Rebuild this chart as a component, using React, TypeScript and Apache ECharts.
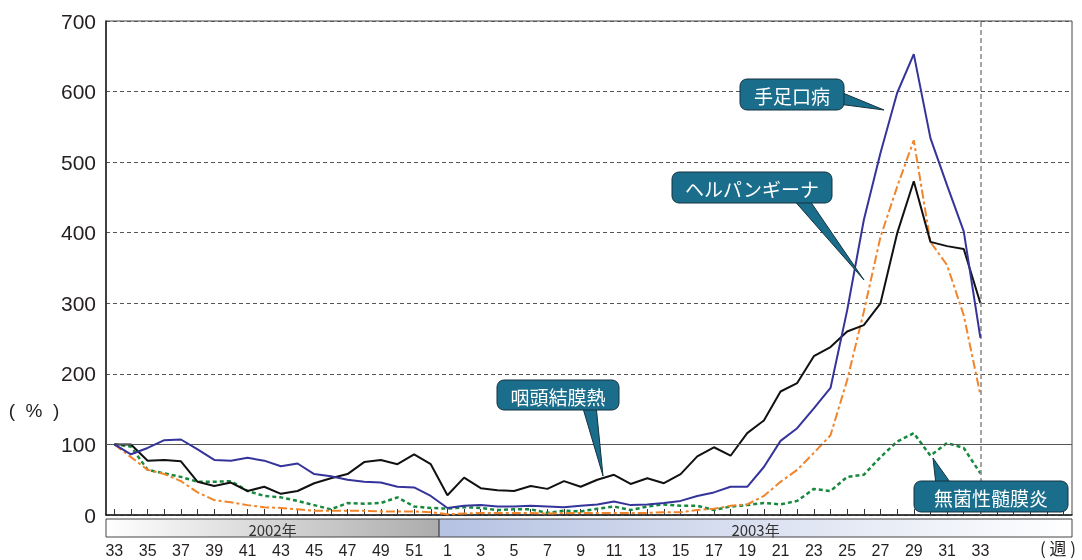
import React, { useEffect, useRef } from 'react';
import * as echarts from 'echarts';

// weeks: 2002 wk33–52, 2003 wk1–38 (data until 2003 wk33)
const weeks2002 = [33, 34, 35, 36, 37, 38, 39, 40, 41, 42, 43, 44, 45, 46, 47, 48, 49, 50, 51, 52];
const weeks2003 = [1, 2, 3, 4, 5, 6, 7, 8, 9, 10, 11, 12, 13, 14, 15, 16, 17, 18, 19, 20, 21, 22, 23, 24, 25, 26, 27, 28, 29, 30, 31, 32, 33, 34, 35, 36, 37, 38];
const lastLabelledWeek2003 = 33;
const categories = [
  ...weeks2002.map((w) => `2002-${w}`),
  ...weeks2003.map((w) => `2003-${w}`),
];

const yTickValues = [0, 100, 200, 300, 400, 500, 600, 700];

// 手足口病
const handFootMouth = [
  100, 86, 95, 106, 107, 93, 78, 77, 81, 77, 69, 73, 58, 55, 50, 47, 46, 40, 39, 27,
  10, 13, 14, 12, 12, 13, 12, 11, 13, 15, 19, 14, 15, 17, 20, 27, 32, 40, 40, 68, 105, 123, 151, 180, 290, 418, 513, 598, 653, 534, 467, 402, 251,
];
// ヘルパンギーナ
const herpangina = [
  100, 82, 64, 58, 48, 32, 21, 18, 14, 11, 10, 8, 6, 6, 6, 6, 5, 5, 5, 4,
  1, 2, 3, 3, 3, 3, 2, 3, 3, 3, 3, 3, 3, 4, 4, 7, 9, 13, 15, 27, 47, 64, 88, 113, 191, 288, 394, 465, 531, 387, 354, 283, 170,
];
// 咽頭結膜熱
const pharyngoconjunctival = [
  100, 100, 77, 78, 76, 47, 41, 46, 34, 40, 30, 34, 45, 52, 58, 75, 78, 72, 86, 72,
  28, 53, 38, 35, 34, 41, 37, 48, 40, 50, 57, 44, 52, 45, 58, 83, 96, 84, 116, 134, 175, 187, 225, 238, 260, 269, 300, 399, 473, 387, 381, 377, 300,
];
// 無菌性髄膜炎
const asepticMeningitis = [
  100, 97, 64, 59, 54, 47, 47, 48, 34, 27, 25, 20, 14, 8, 17, 16, 17, 25, 12, 10,
  9, 11, 10, 7, 8, 8, 3, 6, 5, 9, 12, 7, 12, 15, 13, 13, 7, 12, 14, 17, 15, 20, 37, 34, 54, 57, 82, 104, 116, 84, 102, 95, 59,
];

const NUM_FONT = '"Liberation Sans", Arial, sans-serif';
const JP_FONT = '"Noto Sans CJK JP", "Noto Sans", sans-serif';
const BOX_FILL = '#1b6d8c';
const BOX_STROKE = '#14323f';

function callout(
  text: string,
  box: { x: number; y: number; w: number; h: number },
  pointer: number[][]
) {
  return {
    type: 'group',
    silent: true,
    children: [
      {
        type: 'polygon',
        shape: { points: pointer },
        style: { fill: BOX_FILL, stroke: BOX_STROKE, lineWidth: 1 },
        z: 10,
      },
      {
        type: 'rect',
        shape: { x: box.x, y: box.y, width: box.w, height: box.h, r: 7 },
        style: { fill: BOX_FILL, stroke: BOX_STROKE, lineWidth: 1 },
        z: 11,
      },
      {
        type: 'text',
        x: box.x + box.w / 2,
        y: box.y + box.h / 2 + 1,
        style: {
          text,
          fill: '#ffffff',
          font: `19px ${JP_FONT}`,
          align: 'center',
          verticalAlign: 'middle',
        },
        z: 12,
      },
    ],
  };
}

export default function App() {
  const ref = useRef<HTMLDivElement>(null);

  useEffect(() => {
    if (!ref.current) return;
    const chart = echarts.init(ref.current, null, { renderer: 'svg' });

    const lastIdx = weeks2002.length + lastLabelledWeek2003 - 1;

    const lineBase = {
      type: 'line',
      symbol: 'none',
      silent: true,
      smooth: false,
    };

    chart.setOption({
      animation: false,
      grid: {
        left: 106,
        right: 10,
        top: 21,
        bottom: 45,
        show: true,
        borderColor: '#444',
        borderWidth: 1,
        backgroundColor: 'transparent',
      },
      xAxis: {
        type: 'category',
        data: categories,
        boundaryGap: true,
        axisLine: { show: true, lineStyle: { color: '#222', width: 1.5 } },
        axisTick: {
          show: true,
          inside: true,
          length: 6,
          interval: 0,
          alignWithLabel: true,
          lineStyle: { color: '#333', width: 1 },
        },
        axisLabel: {
          interval: 0,
          margin: 27,
          fontSize: 16,
          fontFamily: NUM_FONT,
          color: '#231f20',
          formatter: (value: string, index: number) => {
            if (index % 2 !== 0 || index > lastIdx) return '';
            return value.split('-')[1];
          },
        },
        splitLine: { show: false },
      },
      yAxis: {
        type: 'value',
        min: 0,
        max: 700,
        interval: 100,
        axisLine: { show: true, lineStyle: { color: '#222', width: 1.5 } },
        axisTick: { show: false },
        axisLabel: {
          fontSize: 21,
          fontFamily: NUM_FONT,
          color: '#231f20',
          margin: 10,
          formatter: (v: number) => (yTickValues.includes(v) ? String(v) : ''),
        },
        splitLine: {
          show: true,
          lineStyle: { color: '#555', type: [4, 3], width: 1 },
        },
      },
      series: [
        {
          ...lineBase,
          name: '無菌性髄膜炎',
          data: asepticMeningitis,
          lineStyle: { color: '#17893c', width: 2.5, type: [4, 3] },
          z: 2,
          markLine: {
            silent: true,
            symbol: 'none',
            label: { show: false },
            data: [
              {
                yAxis: 100,
                lineStyle: { color: '#555', type: 'solid', width: 1 },
              },
              {
                xAxis: lastIdx,
                lineStyle: { color: '#888', type: [5, 3], width: 1.5 },
              },
            ],
          },
        },
        {
          ...lineBase,
          name: 'ヘルパンギーナ',
          data: herpangina,
          lineStyle: { color: '#f0852c', width: 2, type: [9, 3, 3, 3] },
          z: 3,
        },
        {
          ...lineBase,
          name: '咽頭結膜熱',
          data: pharyngoconjunctival,
          lineStyle: { color: '#111111', width: 2, type: 'solid' },
          z: 4,
        },
        {
          ...lineBase,
          name: '手足口病',
          data: handFootMouth,
          lineStyle: { color: '#34349a', width: 2, type: 'solid' },
          z: 5,
        },
      ],
    });

    // year band below the axis, located from the category scale
    const px = (i: number) =>
      chart.convertToPixel({ xAxisIndex: 0 }, categories[i]) as number;
    const step = px(1) - px(0);
    const left = px(0) - step / 2;
    const mid = (px(weeks2002.length - 1) + px(weeks2002.length)) / 2;
    const right = px(categories.length - 1) + step / 2;
    const bandY = 519;
    const bandH = 18;

    chart.setOption({
      graphic: [
        {
          type: 'rect',
          silent: true,
          shape: { x: left, y: bandY, width: mid - left, height: bandH },
          style: {
            fill: new echarts.graphic.LinearGradient(0, 0, 1, 0, [
              { offset: 0, color: '#ffffff' },
              { offset: 1, color: '#acacac' },
            ]),
            stroke: '#444',
            lineWidth: 1,
          },
        },
        {
          type: 'rect',
          silent: true,
          shape: { x: mid, y: bandY, width: right - mid, height: bandH },
          style: {
            fill: new echarts.graphic.LinearGradient(0, 0, 1, 0, [
              { offset: 0, color: '#b5c2e2' },
              { offset: 1, color: '#ffffff' },
            ]),
            stroke: '#444',
            lineWidth: 1,
          },
        },
        {
          type: 'text',
          silent: true,
          x: (left + mid) / 2,
          y: bandY + bandH / 2 + 1,
          style: {
            text: '2002年',
            font: `15px ${JP_FONT}`,
            fill: '#333',
            align: 'center',
            verticalAlign: 'middle',
          },
        },
        {
          type: 'text',
          silent: true,
          x: (mid + right) / 2,
          y: bandY + bandH / 2 + 1,
          style: {
            text: '2003年',
            font: `15px ${JP_FONT}`,
            fill: '#333',
            align: 'center',
            verticalAlign: 'middle',
          },
        },
        {
          type: 'text',
          silent: true,
          x: 34,
          y: 410,
          style: {
            text: '(  %  )',
            font: `19px ${NUM_FONT}`,
            fill: '#231f20',
            align: 'center',
            verticalAlign: 'middle',
          },
        },
        {
          type: 'text',
          silent: true,
          x: 1058,
          y: 547,
          style: {
            text: '( 週 )',
            font: `17px ${JP_FONT}`,
            fill: '#231f20',
            align: 'center',
            verticalAlign: 'middle',
          },
        },
        callout('手足口病', { x: 740, y: 79, w: 104, h: 31 }, [
          [838, 91],
          [838, 104],
          [884, 110],
        ]),
        callout('ヘルパンギーナ', { x: 672, y: 172, w: 160, h: 31 }, [
          [792, 198],
          [808, 198],
          [864, 280],
        ]),
        callout('咽頭結膜熱', { x: 497, y: 380, w: 122, h: 30 }, [
          [582, 405],
          [596, 405],
          [603, 476],
        ]),
        callout('無菌性髄膜炎', { x: 914, y: 481, w: 154, h: 31 }, [
          [936, 485],
          [952, 485],
          [933, 458],
        ]),
      ],
    });

    return () => chart.dispose();
  }, []);

  return (
    <div
      ref={ref}
      style={{ position: 'fixed', left: 0, top: 0, width: 1082, height: 560 }}
    />
  );
}
